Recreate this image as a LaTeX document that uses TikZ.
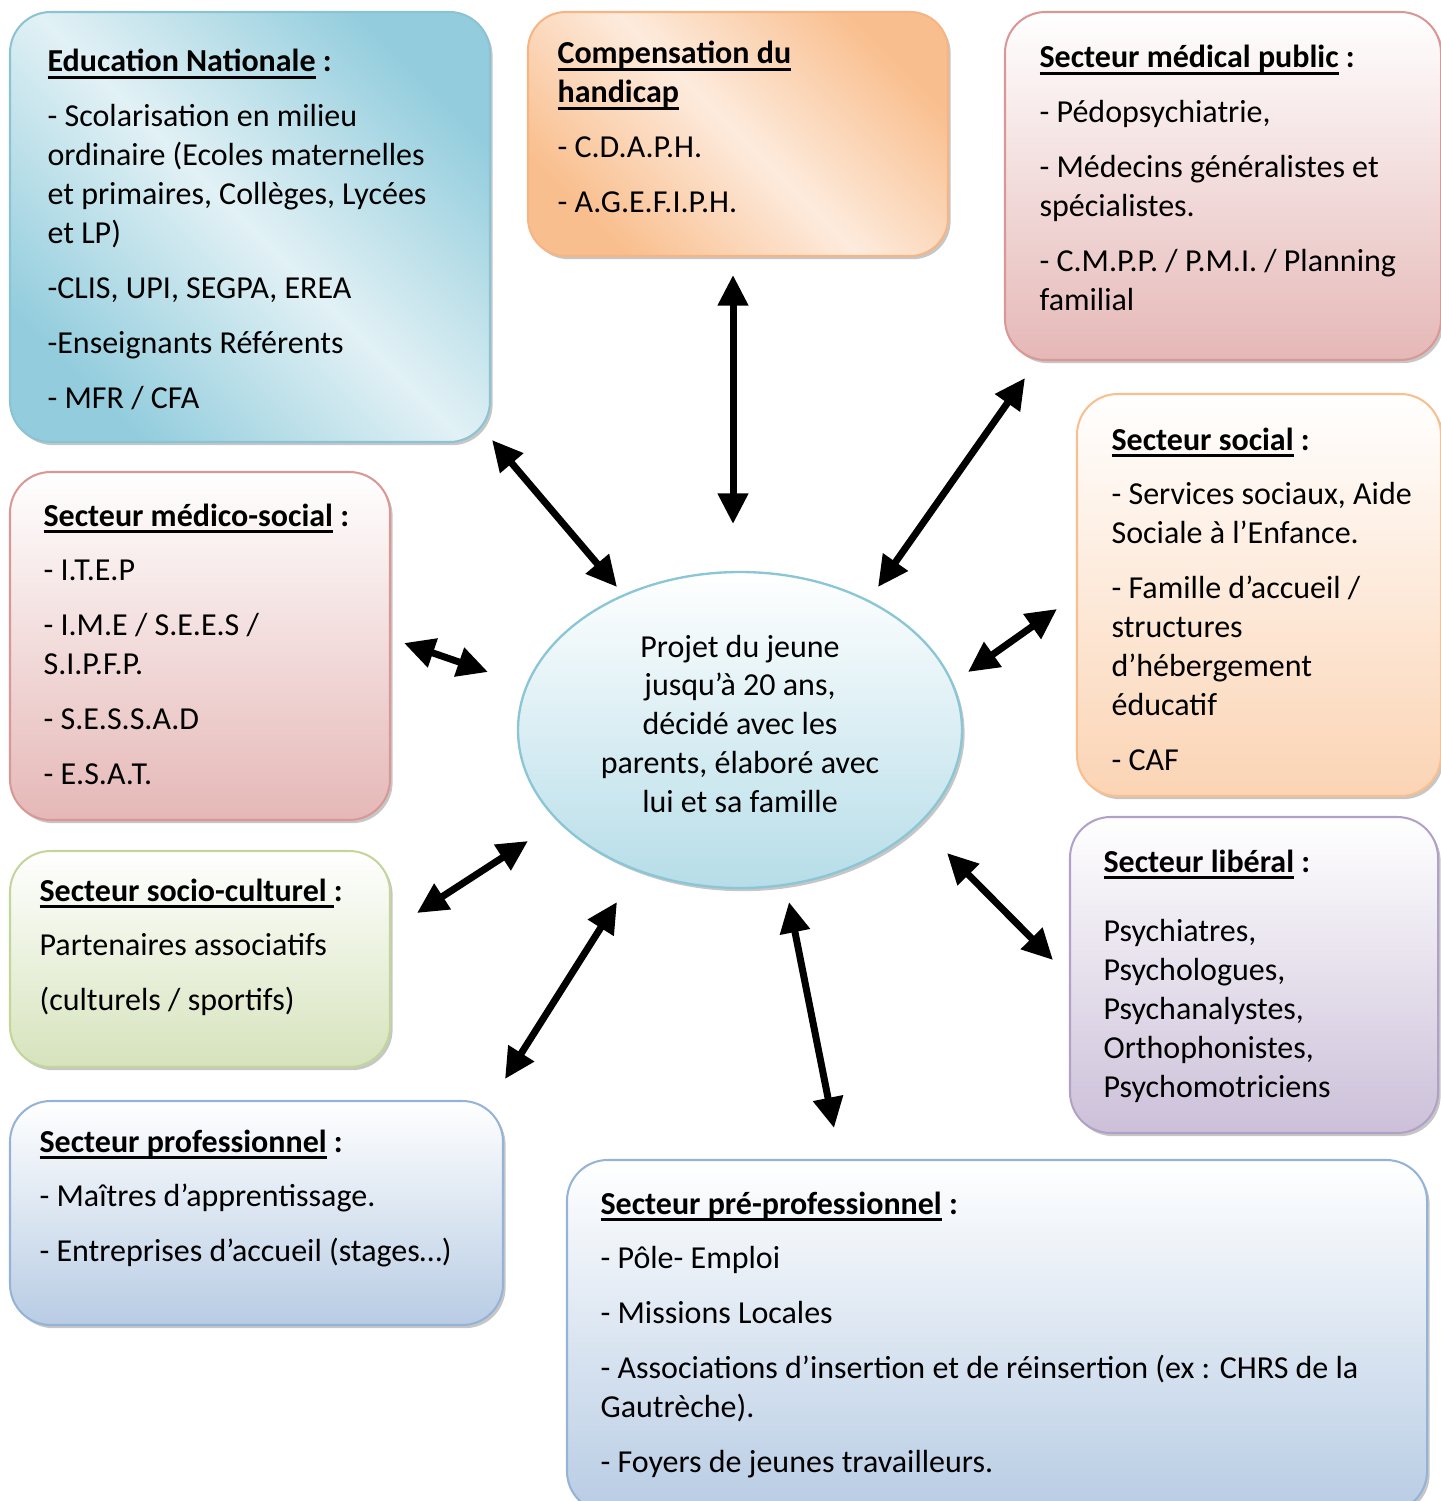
\documentclass[tikz,border=0pt]{standalone}
\usepackage{fontspec}
\setmainfont{Carlito}
\usetikzlibrary{arrows.meta,shadows,shapes.geometric}

\definecolor{eduD}{HTML}{93CDDD}
\definecolor{eduL}{HTML}{E2F1F5}
\definecolor{eduB}{HTML}{8CC3D3}
\definecolor{cmpD}{HTML}{F9BE8D}
\definecolor{cmpL}{HTML}{FDEBDD}
\definecolor{cmpB}{HTML}{F5B584}
\definecolor{pinkD}{HTML}{E5B8B7}
\definecolor{pinkB}{HTML}{D99795}
\definecolor{orgD}{HTML}{FBD4B4}
\definecolor{orgB}{HTML}{F9BF8F}
\definecolor{grnD}{HTML}{D6E3BC}
\definecolor{grnB}{HTML}{C2D69B}
\definecolor{purD}{HTML}{CCC0D9}
\definecolor{purB}{HTML}{B2A1C7}
\definecolor{bluD}{HTML}{B8CCE4}
\definecolor{bluB}{HTML}{95B3D7}
\definecolor{ellD}{HTML}{B6DDE8}
\definecolor{ellB}{HTML}{8AC6D6}

\newlength\ulw
\newcommand\ult[1]{\settowidth\ulw{#1}\rlap{\rule[-2.4pt]{\ulw}{0.9pt}}#1}
\newcommand\boxtext[1]{\parbox[t]{400pt}{\raggedright\fontsize{11pt}{13.4pt}\selectfont #1}}
\newcommand\elltext[1]{\parbox[t]{120pt}{\centering\fontsize{11pt}{13.4pt}\selectfont #1}}

\tikzset{
  boxbase/.style={draw, line width=0.7pt, rounded corners=14pt,
    drop shadow={shadow xshift=0.9pt, shadow yshift=-1.1pt, opacity=0.45, fill=black!50}},
  vgrad/.style 2 args={boxbase, draw=#2, top color=white, bottom color=#1},
  dgrad/.style n args={3}{boxbase, draw=#3, left color=#1, right color=#1, middle color=#2, shading angle=-45},
  txtnode/.style={anchor=base west, inner sep=0pt},
  dbl/.style={line width=2.4pt, {Triangle[length=10.5pt,width=10pt]}-{Triangle[length=10.5pt,width=10pt]}},
}

\begin{document}
\begin{tikzpicture}[x=0.34375pt, y=-0.34375pt]
\useasboundingbox (0,0) rectangle (1441,1501);

% boxes
\path[dgrad={eduD}{eduL}{eduB}] (10,12) rectangle (490,442);
\path[dgrad={cmpD}{cmpL}{cmpB}, rounded corners=13pt] (528,12) rectangle (948,256);
\path[vgrad={pinkD}{pinkB}] (1005,12) rectangle (1441,360);
\path[vgrad={orgD}{orgB}] (1077,394) rectangle (1441,796);
\path[vgrad={pinkD}{pinkB}] (10,472) rectangle (390,820);
\path[vgrad={grnD}{grnB}] (10,851) rectangle (390,1067);
\path[vgrad={bluD}{bluB}] (10,1101) rectangle (503,1325);
\path[vgrad={purD}{purB}] (1070,817) rectangle (1438,1133);
\path[vgrad={bluD}{bluB}] (567,1160) rectangle (1427,1512);

% central ellipse
\node[ellipse, draw=ellB, line width=0.8pt, top color=white, bottom color=ellD,
  minimum width=444*0.34375pt, minimum height=316*0.34375pt, inner sep=0pt,
  drop shadow={shadow xshift=0.9pt, shadow yshift=-1.1pt, opacity=0.45, fill=black!50}]
  (proj) at (740,730) {};
\node[anchor=base, inner sep=0pt] (projtxt) at (740,657)
  {\elltext{Projet du jeune\\ jusqu’à 20 ans,\\ décidé avec les\\ parents, élaboré avec\\ lui et sa famille}};

% texts
\node[txtnode] (edu) at (47,72) {\boxtext{\textbf{\ult{Education Nationale} :}\\[5.5pt]
- Scolarisation en milieu\\
ordinaire (Ecoles maternelles\\
et primaires, Collèges, Lycées\\
et LP)\\[5.5pt]
-CLIS, UPI, SEGPA, EREA\\[5.5pt]
-Enseignants Référents\\[5.5pt]
- MFR / CFA}};

\node[txtnode] (cmp) at (557,64) {\boxtext{\textbf{\ult{Compensation du}}\\
\textbf{\ult{handicap}}\\[5.5pt]
- C.D.A.P.H.\\[5.5pt]
- A.G.E.F.I.P.H.}};

\node[txtnode] (med) at (1039,68) {\boxtext{\textbf{\ult{Secteur médical public} :}\\[5.5pt]
- Pédopsychiatrie,\\[5.5pt]
- Médecins généralistes et\\
spécialistes.\\[5.5pt]
- C.M.P.P. / P.M.I. / Planning\\
familial}};

\node[txtnode] (soc) at (1111,450) {\boxtext{\textbf{\ult{Secteur social} :}\\[5.5pt]
- Services sociaux, Aide\\
Sociale à l’Enfance.\\[5.5pt]
- Famille d’accueil /\\
structures\\
d’hébergement\\
éducatif\\[5.5pt]
- CAF}};

\node[txtnode] (mso) at (43,526) {\boxtext{\textbf{\ult{Secteur médico-social} :}\\[5.5pt]
- I.T.E.P\\[5.5pt]
- I.M.E / S.E.E.S /\\
S.I.P.F.P.\\[5.5pt]
- S.E.S.S.A.D\\[5.5pt]
- E.S.A.T.}};

\node[txtnode] (scu) at (39,901) {\boxtext{\textbf{\ult{Secteur socio-culturel }:}\\[5.5pt]
Partenaires associatifs\\[5.5pt]
(culturels / sportifs)}};

\node[txtnode] (pro) at (39,1152) {\boxtext{\textbf{\ult{Secteur professionnel} :}\\[5.5pt]
- Maîtres d’apprentissage.\\[5.5pt]
- Entreprises d’accueil (stages…)}};

\node[txtnode] (lib) at (1103,872) {\boxtext{\textbf{\ult{Secteur libéral} :}\\[10.5pt]
Psychiatres,\\
Psychologues,\\
Psychanalystes,\\
Orthophonistes,\\
Psychomotriciens}};

\node[txtnode] (pre) at (600,1214) {\boxtext{\textbf{\ult{Secteur pré-professionnel} :}\\[5.5pt]
- Pôle- Emploi\\[5.5pt]
- Missions Locales\\[5.5pt]
- Associations d’insertion et de réinsertion (ex : CHRS de la\\
Gautrèche).\\[5.5pt]
- Foyers de jeunes travailleurs.}};

% arrow end points
\coordinate (a1) at (492,440);  \coordinate (b1) at (617,587);
\coordinate (a2) at (733,275);  \coordinate (b2) at (733,524);
\coordinate (a3) at (1025,378); \coordinate (b3) at (878,587);
\coordinate (a4) at (1057,609); \coordinate (b4) at (968,672);
\coordinate (a5) at (404,643);  \coordinate (b5) at (488,672);
\coordinate (a6) at (417,913);  \coordinate (b6) at (528,841);
\coordinate (a7) at (505,1079); \coordinate (b7) at (617,902);
\coordinate (a8) at (834,1128); \coordinate (b8) at (789,902);
\coordinate (a9) at (1053,960); \coordinate (b9) at (947,853);

\foreach \i in {1,...,9} \draw[dbl] (a\i) -- (b\i);
\end{tikzpicture}
\end{document}
